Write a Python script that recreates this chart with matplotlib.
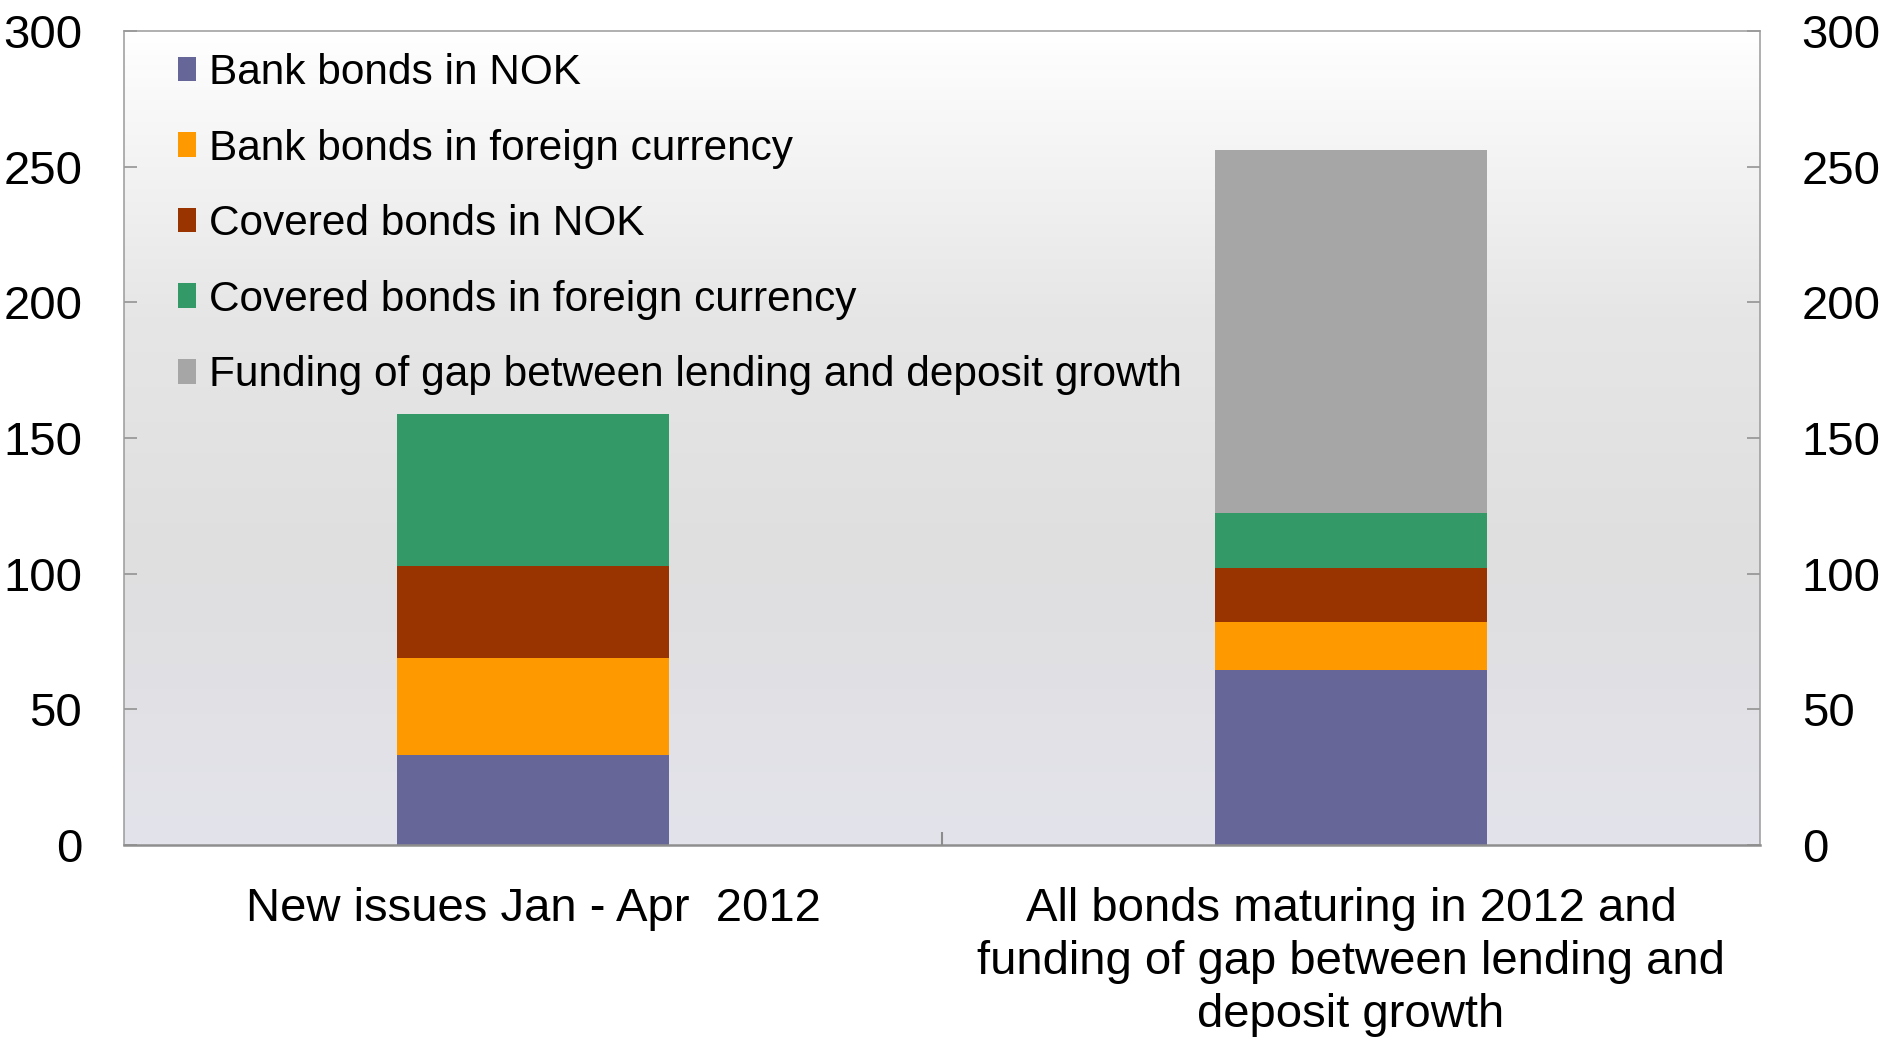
import matplotlib
matplotlib.use("Agg")
import matplotlib.pyplot as plt
from matplotlib.colors import LinearSegmentedColormap
from matplotlib.patches import Patch
import numpy as np

plt.rcParams['font.family'] = ['Liberation Sans', 'DejaVu Sans']

categories = ["New issues Jan - Apr  2012",
              "All bonds maturing in 2012 and\nfunding of gap between lending and\ndeposit growth"]
series_names = ["Bank bonds in NOK",
                "Bank bonds in foreign currency",
                "Covered bonds in NOK",
                "Covered bonds in foreign currency",
                "Funding of gap between lending and deposit growth"]
bank_nok = [33.0, 64.5]
bank_foreign = [36.0, 17.8]
covered_nok = [33.8, 19.7]
covered_foreign = [56.0, 20.4]
funding_gap = [0.0, 133.8]
y_ticks = [0, 50, 100, 150, 200, 250, 300]

colors = ["#666699", "#ff9900", "#993300", "#339966", "#a6a6a6"]
edge = "#8c8c8c"

fig = plt.figure(figsize=(18.83, 10.38), dpi=100)
ax = fig.add_axes([124 / 1883, 1 - 845 / 1038, 1636 / 1883, 814 / 1038])

# soft vertical gradient behind the bars
bg = LinearSegmentedColormap.from_list(
    "bg", [(0.0, "#e3e3eb"), (0.35, "#dfdfe0"), (0.65, "#e6e6e6"), (1.0, "#ffffff")])
grad = np.linspace(0, 1, 256).reshape(-1, 1)
ax.imshow(grad, cmap=bg, origin="lower", aspect="auto",
          extent=[0, 1, 0, 1], transform=ax.transAxes, zorder=0)

x = np.arange(len(categories))
width = 1 / 3
bottom = np.zeros(len(categories))
for name, vals, c in zip(series_names,
                         [bank_nok, bank_foreign, covered_nok, covered_foreign, funding_gap],
                         colors):
    vals = np.array(vals)
    ax.bar(x, vals, width, bottom=bottom, color=c, label=name, zorder=2, linewidth=0)
    bottom += vals

ax.set_xlim(-0.5, 1.5)
ax.set_ylim(0, 300)
ax.set_yticks(y_ticks)
ax.tick_params(axis="y", which="major", direction="in", length=9.5, width=1.1,
               color=edge, labelsize=34, pad=30, left=True, right=True,
               labelleft=True, labelright=True)
ax.set_xticks(x)
ax.set_xticklabels(categories, fontsize=34, linespacing=1.27)
ax.tick_params(axis="x", which="major", length=0, pad=30)
ax.set_xticks([0.5], minor=True)
ax.tick_params(axis="x", which="minor", direction="in", length=9.5, width=1.5, color=edge)

for side in ["left", "right", "top"]:
    ax.spines[side].set_color("#9a9a9a")
    ax.spines[side].set_linewidth(1.1)
ax.spines["bottom"].set_color("#8e8e8e")
ax.spines["bottom"].set_linewidth(1.8)

handles = [Patch(facecolor=c, edgecolor="none") for c in colors]
ax.legend(handles, series_names, loc="upper left", bbox_to_anchor=(178 / 1883, 1 - 53 / 1038),
          bbox_transform=fig.transFigure, frameon=False, fontsize=30.5,
          handlelength=0.42, handleheight=0.52, handletextpad=0.32,
          labelspacing=0.84, borderaxespad=0, borderpad=0)

fig.savefig("out.png", dpi=100)
